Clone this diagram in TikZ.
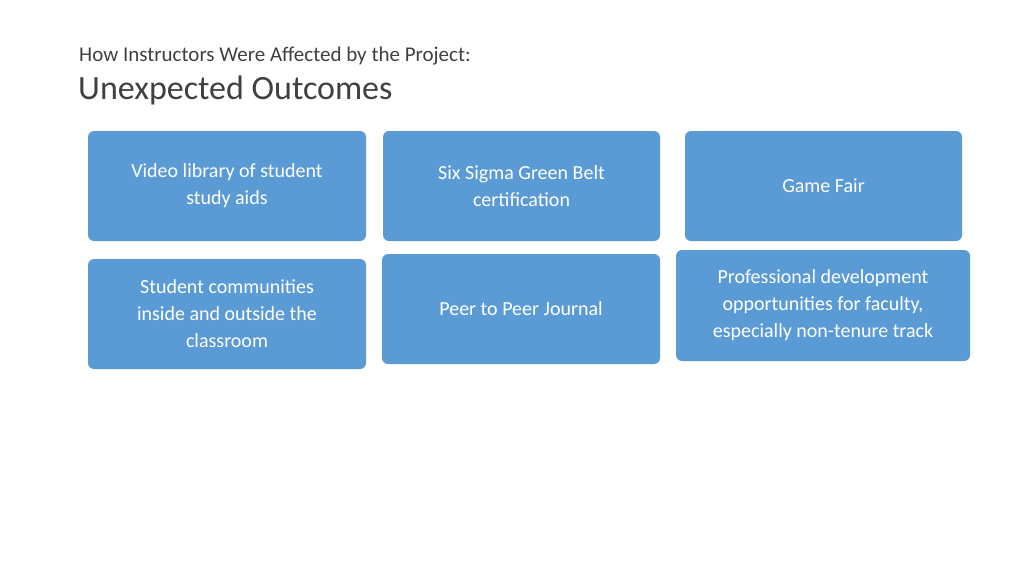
\documentclass[tikz,border=0pt]{standalone}
\usepackage{fontspec}
\setmainfont{Carlito}
\definecolor{boxblue}{HTML}{5B9BD5}
\definecolor{titlegray}{HTML}{404040}
\begin{document}
\begin{tikzpicture}[x=1pt,y=-1pt,
  card/.style={fill=boxblue,rounded corners=6pt,draw=none},
  cardtext/.style={text=white,font=\fontsize{20}{27}\selectfont,align=center}]
\useasboundingbox[fill=white] (0,0) rectangle (1024,576);
\node[anchor=base west,inner sep=0,text=titlegray,font=\fontsize{21}{25}\selectfont] (t1) at (79,61) {How Instructors Were Affected by the Project:};
\node[anchor=base west,inner sep=0,text=titlegray,font=\fontsize{34}{40}\selectfont] (t2) at (78,99) {Unexpected Outcomes};
\fill[card] (88,131) rectangle (366,241); \node[cardtext] (b1) at (227,186) {Video library of student\\study aids};
\fill[card] (383,131) rectangle (660,241); \node[cardtext] (b2) at (521.5,186) {Six Sigma Green Belt\\certification};
\fill[card] (685,131) rectangle (962,241); \node[cardtext] (b3) at (823.5,186) {Game Fair};
\fill[card] (88,259) rectangle (366,369); \node[cardtext] (b4) at (227,314) {Student communities\\inside and outside the\\classroom};
\fill[card] (382,254) rectangle (660,364); \node[cardtext] (b5) at (521,309) {Peer to Peer Journal};
\fill[card] (676,250) rectangle (970,361); \node[cardtext] (b6) at (823,305.5) {Professional development\\opportunities for faculty,\\especially non-tenure track};
\end{tikzpicture}
\end{document}
